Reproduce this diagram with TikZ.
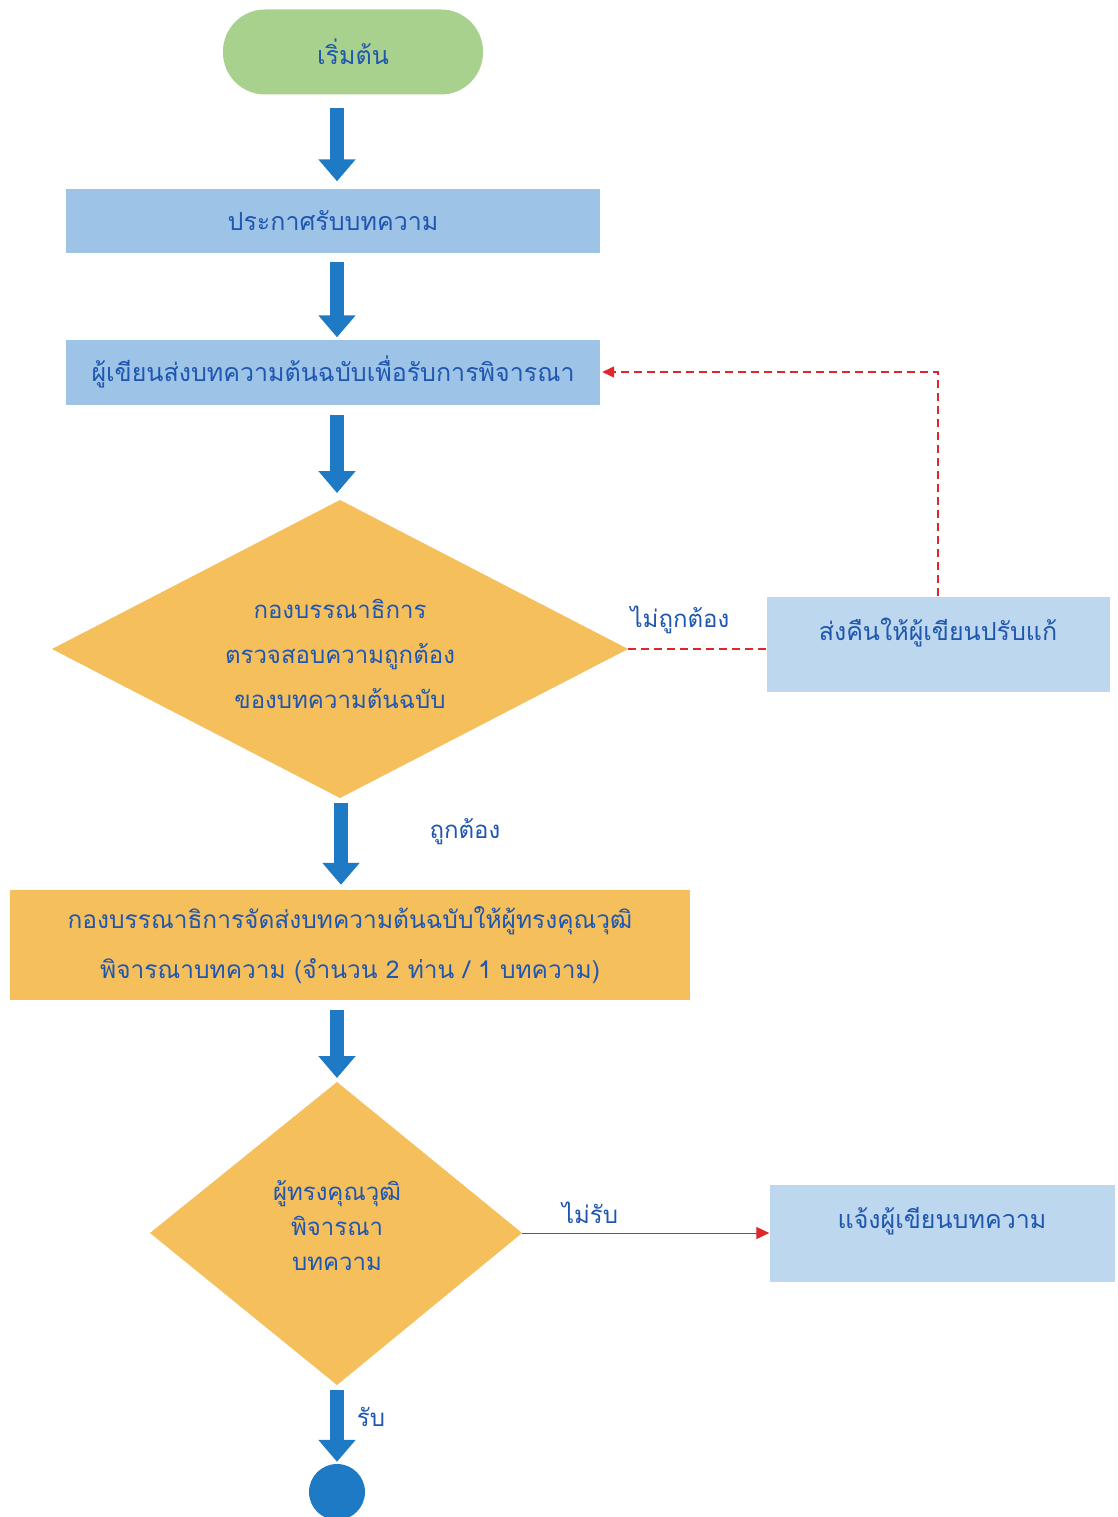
\documentclass[tikz,border=0pt]{standalone}
\usepackage{fontspec}
\newfontfamily\thaifont[Script=Thai]{Loma}
\usetikzlibrary{arrows.meta,shapes.geometric,calc}
\definecolor{startgreen}{HTML}{A9D18E}
\definecolor{boxblue}{HTML}{9DC3E6}
\definecolor{lightblue}{HTML}{BDD7EE}
\definecolor{gold}{HTML}{F5BF5C}
\definecolor{arrowblue}{HTML}{1F7AC6}
\definecolor{txtblue}{HTML}{1F56B0}
\definecolor{linered}{HTML}{E0262B}
\begin{document}
\begin{tikzpicture}[x=1pt,y=-1pt,
  every node/.style={font=\thaifont\fontsize{25}{30}\selectfont, text=txtblue, inner sep=0pt},
  procbox/.style={rectangle, fill=boxblue, minimum height=63pt},
  sidebox/.style={rectangle, fill=lightblue},
  blockarrow/.style={draw=arrowblue, line width=14pt, -{Triangle[width=36pt,length=22pt]}},
  redline/.style={draw=linered, line width=1.3pt},
  lbl/.style={font=\thaifont\fontsize{24}{26}\selectfont}
]
\useasboundingbox (0,0) rectangle (1117,1517);
\fill[white] (0,0) rectangle (1117,1517);

\node[rectangle, rounded corners=42pt, fill=startgreen, minimum width=260pt, minimum height=85pt] (start) at (353,52) {เริ่มต้น};
\node[procbox, minimum width=534pt] (b1) at (333,221) {ประกาศรับบทความ};
\node[procbox, minimum width=534pt, minimum height=65pt] (b2) at (333,372) {ผู้เขียนส่งบทความต้นฉบับเพื่อรับการพิจารณา};

% decision 1
\coordinate (d1n) at (340,500);
\coordinate (d1s) at (340,798);
\coordinate (d1w) at (52,649);
\coordinate (d1e) at (628,649);
\fill[gold] (d1n) -- (d1e) -- (d1s) -- (d1w) -- cycle;
\node[align=center, font=\thaifont\fontsize{24}{45}\selectfont] (d1) at (340,654) {กองบรรณาธิการ\\ตรวจสอบความถูกต้อง\\ของบทความต้นฉบับ};

\node[sidebox, minimum width=343pt, minimum height=95pt] (ret) at (938,644) {\raisebox{30pt}{ส่งคืนให้ผู้เขียนปรับแก้}};
\node[rectangle, fill=gold, minimum width=680pt, minimum height=110pt, align=center, font=\thaifont\fontsize{24.5}{50}\selectfont] (b3) at (350,945) {กองบรรณาธิการจัดส่งบทความต้นฉบับให้ผู้ทรงคุณวุฒิ\\พิจารณาบทความ (จำนวน 2 ท่าน / 1 บทความ)};

% decision 2
\coordinate (d2n) at (337,1082);
\coordinate (d2s) at (337,1385);
\coordinate (d2w) at (150,1233);
\coordinate (d2e) at (522,1233);
\fill[gold] (d2n) -- (d2e) -- (d2s) -- (d2w) -- cycle;
\node[align=center, font=\thaifont\fontsize{24}{35}\selectfont] (d2) at (337,1226) {ผู้ทรงคุณวุฒิ\\พิจารณา\\บทความ};

\node[sidebox, minimum width=345pt, minimum height=97pt] (notify) at (942,1233) {\raisebox{30pt}{แจ้งผู้เขียนบทความ}};
\node[circle, fill=arrowblue, minimum size=56pt] (endc) at (337,1492) {};

% block arrows
\draw[blockarrow, shorten <=13pt, shorten >=8pt] (start.south -| 337,0) -- (b1.north -| 337,0);
\draw[blockarrow, shorten <=9pt, shorten >=2pt] (b1.south -| 337,0) -- (b2.north -| 337,0);
\draw[blockarrow, shorten <=10pt, shorten >=7pt] (b2.south -| 337,0) -- (d1n -| 337,0);
\draw[blockarrow, shorten <=5pt, shorten >=5pt] (d1s -| 341,0) -- (b3.north -| 341,0);
\draw[blockarrow, shorten <=10pt, shorten >=4pt] (b3.south -| 337,0) -- (d2n);
\draw[blockarrow, shorten <=5pt, shorten >=2pt] (d2s) -- (endc.north);

% labels
\node[lbl] (lwrong) at (680,620) {ไม่ถูกต้อง};
\node[lbl] (lright) at (465,832) {ถูกต้อง};
\node[lbl] (lreject) at (590,1213) {ไม่รับ};
\node[lbl] (laccept) at (371,1417) {รับ};

% red connectors
\draw[redline, dash pattern=on 8pt off 5pt] (d1e) -- (ret.west |- d1e);
\draw[redline, dash pattern=on 8pt off 5pt, -{Triangle[width=11pt,length=12pt]}] (ret.north) -- (ret.north |- b2.east) -- ([xshift=2pt]b2.east);
\draw[redline, line width=1pt, -{Triangle[width=12pt,length=13pt]}] (d2e) -- (notify.west);
\end{tikzpicture}
\end{document}
